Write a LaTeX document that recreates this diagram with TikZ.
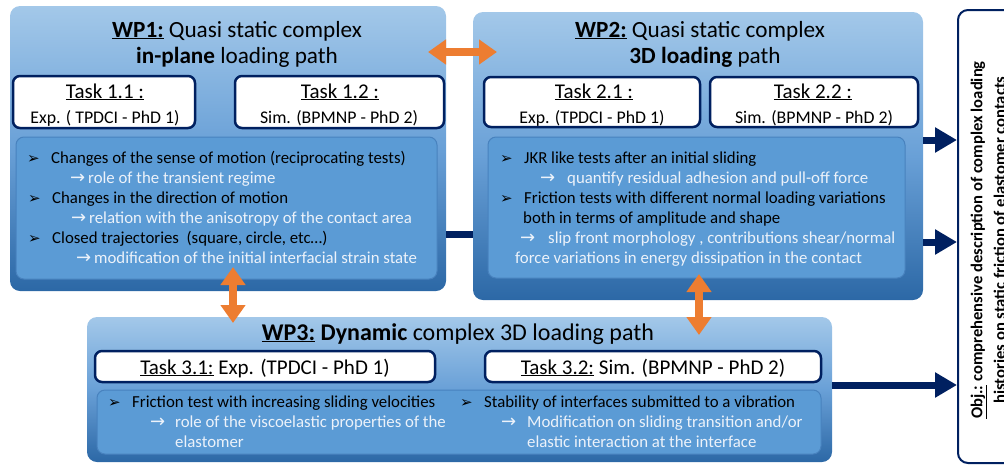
\documentclass[tikz,border=0pt]{standalone}
\usepackage{fontspec}
\setmainfont{Carlito}
\newfontfamily\sym{DejaVu Sans}
\usetikzlibrary{arrows.meta,calc}
\definecolor{navy}{RGB}{0,32,96}
\definecolor{org}{RGB}{237,125,49}
\definecolor{boxtop}{RGB}{163,200,233}
\definecolor{boxmid}{RGB}{105,160,215}
\definecolor{boxbot}{RGB}{44,104,166}
\definecolor{innerf}{RGB}{91,155,213}
\definecolor{innerb}{RGB}{72,130,190}
\definecolor{lighttxt}{RGB}{236,242,250}
\newcommand{\bul}{\makebox[24pt][l]{\sym\fontsize{15}{15}\selectfont ➢}}
\newcommand{\arr}[1][18pt]{\makebox[#1][l]{\sym\fontsize{18}{18}\selectfont →}}
\begin{document}
\begin{tikzpicture}[x=1pt,y=-1pt,
  wpbox/.style={rounded corners=10pt, top color=boxtop, bottom color=boxbot, middle color=boxmid, anchor=north west, inner sep=0pt, outer sep=0pt},
  innerbox/.style={rounded corners=8pt, fill=innerf, draw=innerb, line width=1pt, anchor=north west, inner sep=0pt, outer sep=0pt},
  taskbox/.style={rounded corners=7pt, fill=white, draw=navy, line width=2.5pt, anchor=north west, inner sep=0pt, outer sep=0pt},
  head/.style={anchor=base, inner sep=0pt, font=\fontsize{23.2}{26}\selectfont},
  ttitle/.style={anchor=base, inner sep=0pt, font=\fontsize{21}{24}\selectfont},
  tsub/.style={anchor=base, inner sep=0pt, font=\fontsize{17.8}{20}\selectfont},
  body/.style={anchor=base west, inner sep=0pt, font=\fontsize{16.8}{20}\selectfont},
  bodyl/.style={body, text=lighttxt},
  navyarrow/.style={draw=navy, line width=7pt, -{Triangle[width=24pt,length=22pt]}},
  orgarrow/.style={draw=org, line width=8pt, {Triangle[width=24pt,length=18pt]}-{Triangle[width=24pt,length=18pt]}}
]
\useasboundingbox (0,0) rectangle (1004,464);

% connector WP1 - WP2 (behind)
\coordinate (c12) at (460,234);

% work package boxes
\node[wpbox, minimum width=436pt, minimum height=285pt] (wp1) at (10,6) {};
\node[wpbox, minimum width=450pt, minimum height=288pt] (wp2) at (473,12) {};
\node[wpbox, minimum width=745pt, minimum height=145pt] (wp3) at (87,317) {};
\draw[navy, line width=7pt] (wp1.east |- c12) -- (wp2.west |- c12);

% objective box
\node[draw=navy, line width=2pt, fill=white, rounded corners=10pt, anchor=north west, inner sep=0pt, minimum width=80pt, minimum height=453pt] (obj) at (957,9) {};
\node[rotate=90, align=center, inner sep=0pt, font=\fontsize{16.6}{23}\selectfont\bfseries] (objtxt) at (988,240)
  {\underline{Obj.:} comprehensive description of complex loading\\histories on static friction of elastomer contacts};

% WP1
\node[head] (h1a) at (237,37) {\underline{\textbf{WP1:}} Quasi static complex};
\node[head] (h1b) at (237,63) {\textbf{in-plane} loading path};
\node[taskbox, minimum width=182pt, minimum height=52pt] (t11) at (13,76) {};
\node[taskbox, minimum width=209pt, minimum height=52pt] (t12) at (235,76) {};
\node[ttitle] (t11a) at (105,98) {\underline{Task 1.1 :}};
\node[tsub] (t11b) at (105,123) {Exp. ( TPDCI - PhD 1)};
\node[ttitle] (t12a) at (340,98) {\underline{Task 1.2 :}};
\node[tsub] (t12b) at (339,123) {Sim. (BPMNP - PhD 2)};
\node[innerbox, minimum width=421pt, minimum height=142pt] (in1) at (16,137) {};
\node[body] (b11) at (27,163) {\bul Changes of the sense of motion (reciprocating tests)};
\node[bodyl] (b12) at (70,183) {\arr role of the transient regime};
\node[body] (b13) at (28,203) {\bul Changes in the direction of motion};
\node[bodyl] (b14) at (71,223) {\arr relation with the anisotropy of the contact area};
\node[body] (b15) at (28,243) {\bul Closed trajectories\ \ (square, circle, etc…)};
\node[bodyl] (b16) at (76,263) {\arr modification of the initial interfacial strain state};

% WP2
\node[head] (h2a) at (700,37) {\underline{\textbf{WP2:}} Quasi static complex};
\node[head] (h2b) at (705,63) {\textbf{3D loading} path};
\node[taskbox, minimum width=216pt, minimum height=50pt] (t21) at (484,77) {};
\node[taskbox, minimum width=208pt, minimum height=50pt] (t22) at (710,77) {};
\node[ttitle] (t21a) at (594,98) {\underline{Task 2.1 :}};
\node[tsub] (t21b) at (592,123) {Exp. (TPDCI - PhD 1)};
\node[ttitle] (t22a) at (813,98) {\underline{Task 2.2 :}};
\node[tsub] (t22b) at (814,123) {Sim. (BPMNP - PhD 2)};
\node[innerbox, minimum width=417pt, minimum height=141pt] (in2) at (488,137) {};
\node[body] (b21) at (500,163) {\bul JKR like tests after an initial sliding};
\node[bodyl] (b22) at (540,183) {\arr[27pt]quantify residual adhesion and pull-off force};
\node[body] (b23) at (500,203) {\bul Friction tests with different normal loading variations};
\node[body] (b24) at (523,223) {both in terms of amplitude and shape};
\node[bodyl] (b25) at (520,243) {\arr[28pt]slip front morphology , contributions shear/normal};
\node[bodyl] (b26) at (515,263) {force variations in energy dissipation in the contact};

% WP3
\node[head, font=\fontsize{24}{28}\selectfont] (h3) at (458,340) {\underline{\textbf{WP3:}} \textbf{Dynamic} complex 3D loading path};
\node[taskbox, minimum width=340pt, minimum height=31pt] (t31) at (95,351) {};
\node[taskbox, minimum width=336pt, minimum height=31pt] (t32) at (485,351) {};
\node[ttitle] (t31a) at (265,374) {\underline{Task 3.1:} Exp. (TPDCI - PhD 1)};
\node[ttitle] (t32a) at (653,374) {\underline{Task 3.2:} Sim. (BPMNP - PhD 2)};
\node[innerbox, minimum width=724pt, minimum height=64pt] (in3) at (97,390) {};
\node[body] (b31) at (108,407) {\bul Friction test with increasing sliding velocities};
\node[bodyl] (b32) at (150,427) {\arr[25pt]role of the viscoelastic properties of the};
\node[bodyl] (b33) at (175,447) {elastomer};
\node[body] (b34) at (460,407) {\bul Stability of interfaces submitted to a vibration};
\node[bodyl] (b35) at (501,427) {\arr[26pt]Modification on sliding transition and/or};
\node[bodyl] (b36) at (527,447) {elastic interaction at the interface};

% connectors
\coordinate (o1) at (0,140);
\coordinate (o2) at (0,242);
\coordinate (o3) at (0,385);
\draw[navyarrow] (wp2.east |- o1) -- (obj.west |- o1);
\draw[navyarrow] (wp2.east |- o2) -- (obj.west |- o2);
\draw[navyarrow] (wp3.east |- o3) -- (obj.west |- o3);

\coordinate (ha) at (0,52);
\draw[orgarrow] ($(wp1.east |- ha)+(-18,0)$) -- ($(wp2.west |- ha)+(24,0)$);
\coordinate (va) at (233,0);
\draw[orgarrow] ($(wp1.south -| va)+(0,-24)$) -- ($(wp3.north -| va)+(0,6)$);
\coordinate (vb) at (699,0);
\draw[orgarrow] ($(wp2.south -| vb)+(0,-26)$) -- ($(wp3.north -| vb)+(0,18)$);
\end{tikzpicture}
\end{document}
